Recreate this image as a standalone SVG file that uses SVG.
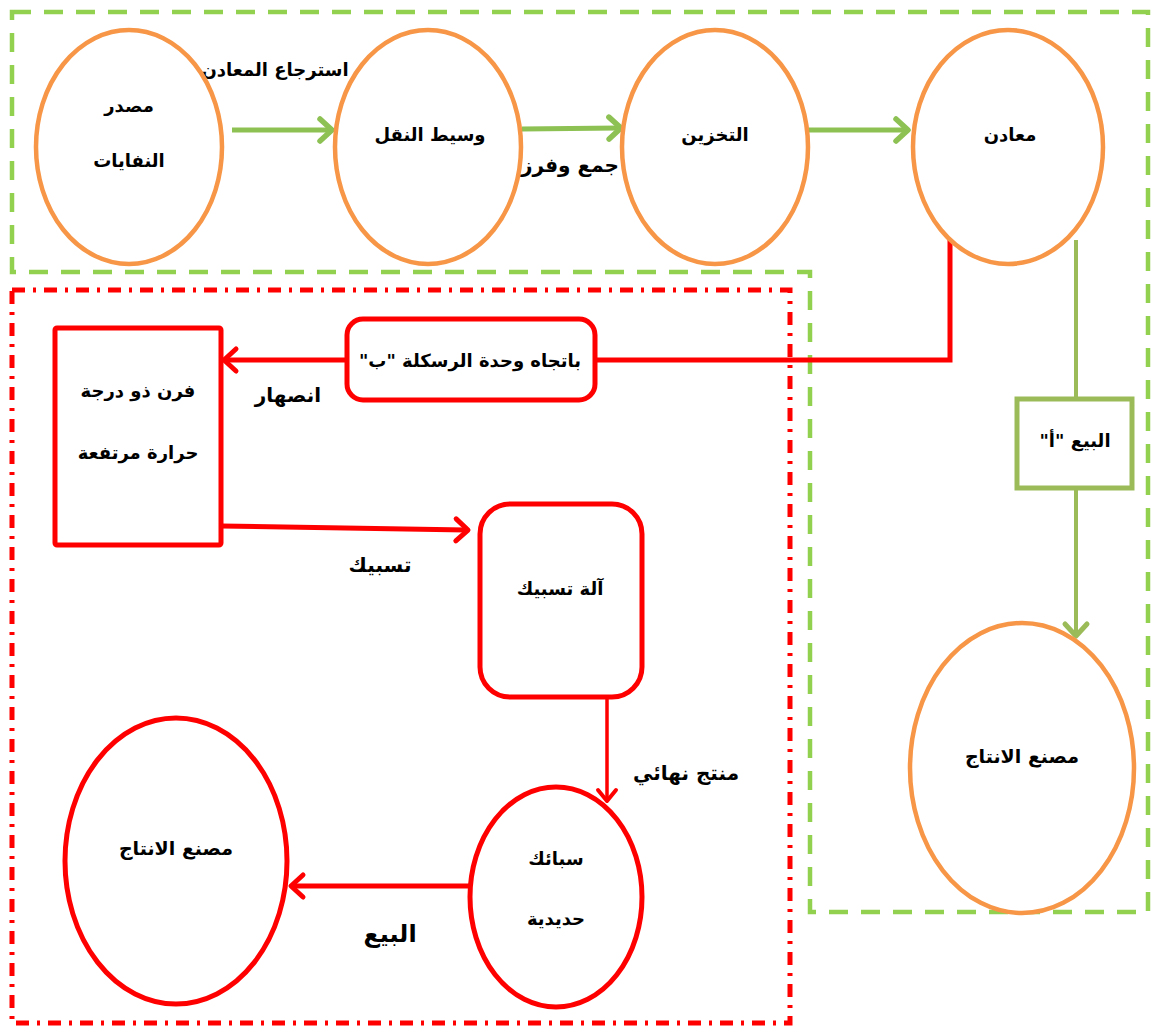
<svg xmlns="http://www.w3.org/2000/svg" width="1152" height="1028" viewBox="0 0 1152 1028">
  <defs>
    <style>
      text { font-family: "DejaVu Sans", sans-serif; font-weight: bold; font-size: 18px; fill: #000; text-anchor: middle; direction: rtl; }
      .lbl { font-size: 20px; }
      .orange { fill: #fff; stroke: #F79646; stroke-width: 4.5; }
      .redshape { fill: #fff; stroke: #FF0000; stroke-width: 5; }
      .greenbox { fill: #fff; stroke: #9BBB59; stroke-width: 5; }
      .gline { fill: none; stroke: #8DC153; stroke-width: 5; }
      .oline { fill: none; stroke: #9BBB59; stroke-width: 4; }
      .rline { fill: none; stroke: #FF0000; stroke-width: 5; }
      .rthin { fill: none; stroke: #FF0000; stroke-width: 3.5; }
    </style>
    <marker id="arrG" markerUnits="userSpaceOnUse" markerWidth="20" markerHeight="26" refX="12" refY="13" orient="auto" overflow="visible">
      <path d="M2,2 L14,13 L2,24" fill="none" stroke="#8DC153" stroke-width="5.5" stroke-linecap="round" stroke-linejoin="round"/>
    </marker>
    <marker id="arrO" markerUnits="userSpaceOnUse" markerWidth="20" markerHeight="26" refX="12" refY="13" orient="auto" overflow="visible">
      <path d="M2,2 L14,13 L2,24" fill="none" stroke="#9BBB59" stroke-width="5" stroke-linecap="round" stroke-linejoin="round"/>
    </marker>
    <marker id="arrR" markerUnits="userSpaceOnUse" markerWidth="20" markerHeight="26" refX="12" refY="13" orient="auto" overflow="visible">
      <path d="M2,2 L14,13 L2,24" fill="none" stroke="#FF0000" stroke-width="5" stroke-linecap="round" stroke-linejoin="round"/>
    </marker>
    <marker id="arrRs" markerUnits="userSpaceOnUse" markerWidth="20" markerHeight="26" refX="12" refY="11" orient="auto" overflow="visible">
      <path d="M2,2 L13,11 L2,20" fill="none" stroke="#FF0000" stroke-width="4" stroke-linecap="round" stroke-linejoin="round"/>
    </marker>
  </defs>

  <rect width="1152" height="1028" fill="#fff"/>

  <!-- zone frames -->
  <g id="zones">
    <path id="zone-green" d="M12,12 H1148 V912 H810 V272 H12 Z" fill="none" stroke="#92D050" stroke-width="4.5" stroke-dasharray="19 13"/>
    <rect id="zone-red" x="12" y="290" width="778" height="733" fill="none" stroke="#FF0000" stroke-width="5" stroke-dasharray="13 8 3 8"/>
  </g>

  <!-- connectors -->
  <g id="connectors">
    <line class="gline" x1="232" y1="130" x2="330" y2="130" marker-end="url(#arrG)"/>
    <line class="gline" x1="522" y1="129" x2="619" y2="128" marker-end="url(#arrG)"/>
    <line class="gline" x1="809" y1="130" x2="906" y2="130" marker-end="url(#arrG)"/>
    <line class="oline" x1="1076" y1="240" x2="1076" y2="398"/>
    <line class="oline" x1="1076" y1="488" x2="1076" y2="634" marker-end="url(#arrO)"/>
    <polyline class="rline" points="950,238 950,360 595,360"/>
    <line class="rline" x1="347" y1="360" x2="226" y2="360" marker-end="url(#arrR)"/>
    <line class="rline" x1="221" y1="526" x2="466" y2="530" marker-end="url(#arrR)"/>
    <line class="rthin" x1="607" y1="697" x2="607" y2="800" marker-end="url(#arrRs)"/>
    <line class="rline" x1="470" y1="886" x2="293" y2="886" marker-end="url(#arrR)"/>
  </g>

  <!-- connector labels -->
  <g id="labels">
    <text x="275" y="76">استرجاع المعادن</text>
    <text class="lbl" x="570" y="172">جمع وفرز</text>
    <text class="lbl" x="288" y="402">انصهار</text>
    <text class="lbl" x="380" y="572">تسبيك</text>
    <text class="lbl" x="686" y="780">منتج نهائي</text>
    <text x="390" y="942" style="font-size:24px">البيع</text>
  </g>

  <!-- nodes -->
  <g id="node-source">
    <ellipse class="orange" cx="129" cy="147" rx="93" ry="117"/>
    <text x="129" y="112">مصدر</text>
    <text x="129" y="167">النفايات</text>
  </g>
  <g id="node-transport">
    <ellipse class="orange" cx="428" cy="147" rx="93" ry="117"/>
    <text x="430" y="141">وسيط النقل</text>
  </g>
  <g id="node-storage">
    <ellipse class="orange" cx="715" cy="147" rx="93" ry="117"/>
    <text x="715" y="141">التخزين</text>
  </g>
  <g id="node-metals">
    <ellipse class="orange" cx="1008" cy="147" rx="95" ry="117"/>
    <text x="1010" y="141">معادن</text>
  </g>
  <g id="node-sale-a">
    <rect class="greenbox" x="1017" y="399" width="115" height="89"/>
    <text x="1075" y="447">البيع "أ"</text>
  </g>
  <g id="node-factory-a">
    <ellipse class="orange" cx="1022" cy="768" rx="112" ry="145"/>
    <text x="1022" y="763" style="font-size:19px">مصنع الانتاج</text>
  </g>
  <g id="node-recycling-b">
    <rect class="redshape" x="347" y="319" width="248" height="81" rx="16"/>
    <text x="470" y="367">باتجاه وحدة الرسكلة "ب"</text>
  </g>
  <g id="node-furnace">
    <rect class="redshape" x="55" y="328" width="166" height="217" rx="2"/>
    <text x="138" y="397">فرن ذو درجة</text>
    <text x="138" y="459">حرارة مرتفعة</text>
  </g>
  <g id="node-casting">
    <rect class="redshape" x="480" y="504" width="162" height="193" rx="30"/>
    <text x="560" y="595">آلة تسبيك</text>
  </g>
  <g id="node-ingots">
    <ellipse class="redshape" cx="556" cy="897" rx="86" ry="110"/>
    <text x="556" y="865">سبائك</text>
    <text x="556" y="925">حديدية</text>
  </g>
  <g id="node-factory-b">
    <ellipse class="redshape" cx="176" cy="861" rx="111" ry="143"/>
    <text x="176" y="855" style="font-size:19px">مصنع الانتاج</text>
  </g>
</svg>
